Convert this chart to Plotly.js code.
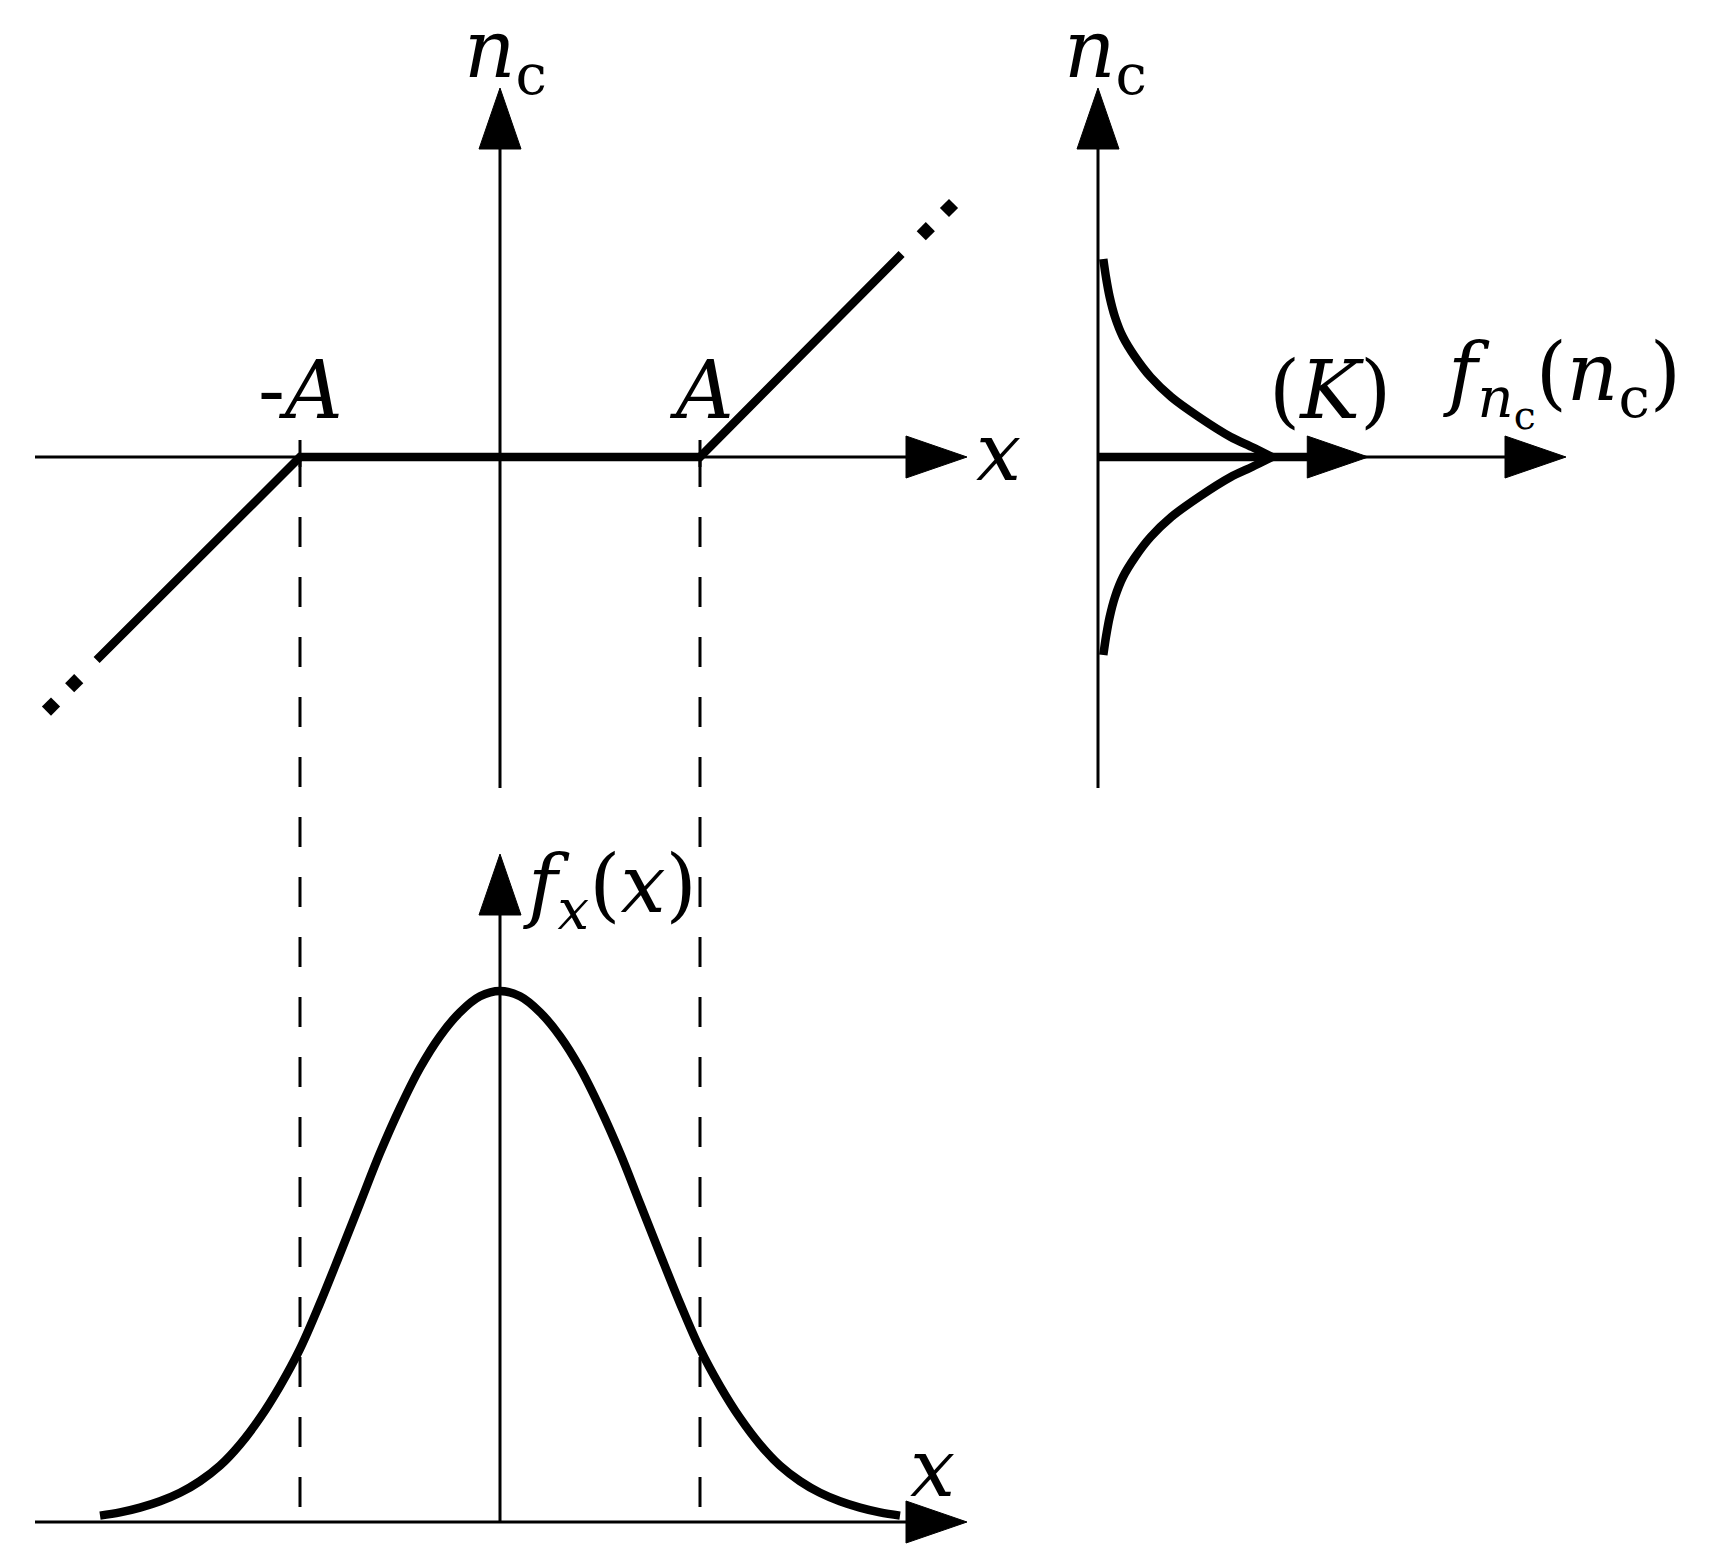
<!DOCTYPE html>
<html>
<head>
<meta charset="utf-8">
<script src="https://cdn.plot.ly/plotly-3.0.1.min.js"></script>
<style>html,body{margin:0;padding:0;background:#fff}#chart{width:1716px;height:1558px}</style>
</head>
<body>
<div id="chart"></div>
<script>
// ---------------- data (x and n_c in units of A) -------------
const transferX = [-2.017, -1, 1, 2.008];
const transferNc = [-1.015, 0, 0, 1.015];
const dotsX = [-2.129, -2.245, 2.129, 2.245];
const dotsNc = [-1.131, -1.248, 1.129, 1.245];

// pdf of x (normalised to peak = 1)
const gaussX = [-2.0,-1.9,-1.8,-1.7,-1.6,-1.5,-1.4,-1.3,-1.2,-1.1,-1.0,-0.9,-0.8,-0.7,-0.6,-0.5,-0.4,-0.3,-0.2,-0.1,
                0,0.1,0.2,0.3,0.4,0.5,0.6,0.7,0.8,0.9,1.0,1.1,1.2,1.3,1.4,1.5,1.6,1.7,1.8,1.9,2.0];
const gaussF = [0.012,0.018,0.027,0.039,0.055,0.077,0.106,0.146,0.196,0.256,0.326,0.412,0.505,0.600,0.695,0.780,0.855,0.915,0.960,0.990,
                1.000,0.990,0.960,0.915,0.855,0.780,0.695,0.600,0.505,0.412,0.326,0.256,0.196,0.146,0.106,0.077,0.055,0.039,0.027,0.018,0.012];

// pdf of n_c (continuous part)
const ncUpper = [0.99, 0.9, 0.8, 0.7, 0.6, 0.5, 0.4, 0.3, 0.2, 0.1, 0.05, 0];
const fUpper  = [0.010, 0.015, 0.022, 0.032, 0.047, 0.070, 0.099, 0.138, 0.19, 0.25, 0.29, 0.328];
const ncLower = [0, -0.05, -0.1, -0.2, -0.3, -0.4, -0.5, -0.6, -0.7, -0.8, -0.9, -0.99];
const fLower  = [0.328, 0.29, 0.25, 0.19, 0.138, 0.099, 0.070, 0.047, 0.032, 0.022, 0.015, 0.010];

// impulse of weight K at n_c = 0 (arrow length in f units)
const impulseF = 0.509;

const levelA = [-1, 1];

// ---------------- geometry ----------------
const W = 1716, H = 1558;
const A_PX = 200;     // px per unit of x / n_c
const F_PX = 531;     // px per unit of pdf
const OX = 500, OY_TOP = 457, OX_R = 1098, OY_BOT = 1522;

const xRange  = [-OX / A_PX, (W - OX) / A_PX];
const yRange  = [-(H - OY_TOP) / A_PX, OY_TOP / A_PX];
const x2Range = [-OX_R / F_PX, (W - OX_R) / F_PX];
const y3Range = [-(H - OY_BOT) / F_PX, OY_BOT / F_PX];

const xLeft = (35 - OX) / A_PX, xTip = (967 - OX) / A_PX;
const ncBottom = (OY_TOP - 788) / A_PX, ncTip = (OY_TOP - 88) / A_PX;
const fAxisTipR = (1566 - OX_R) / F_PX;
const fAxisTipB = (OY_BOT - 854) / F_PX;
const bottomInY = (OY_TOP - OY_BOT) / A_PX;

const black = '#000';
const thin = 3, thick = 8.5;

function line(xref, yref, x0, y0, x1, y1, w, dash) {
  return {type: 'line', xref, yref, x0, y0, x1, y1, layer: 'above',
          line: {color: black, width: w, dash: dash || 'solid'}};
}
const AL = 61, AW = 21;
function arrow(xref, yref, x, y, dir) {
  const p = dir === 'right'
    ? `M0,0 L${-AL},${AW} L${-AL},${-AW} Z`
    : `M0,0 L${-AW},${-AL} L${AW},${-AL} Z`;
  return {type: 'path', xref, yref, xsizemode: 'pixel', ysizemode: 'pixel',
          xanchor: x, yanchor: y, path: p, layer: 'above',
          fillcolor: black, line: {color: black, width: 1}};
}

const shapes = [
  // top-left axes
  line('x', 'y', xLeft, 0, xTip - 0.1, 0, thin),
  line('x', 'y', 0, ncBottom, 0, ncTip - 0.1, thin),
  arrow('x', 'y', xTip, 0, 'right'),
  arrow('x', 'y', 0, ncTip, 'up'),
  // right axes
  line('x2', 'y2', 0, ncBottom, 0, ncTip - 0.1, thin),
  arrow('x2', 'y2', 0, ncTip, 'up'),
  line('x2', 'y2', 0, 0, fAxisTipR - 0.05, 0, thin),
  line('x2', 'y2', 0, 0, impulseF - 0.1, 0, thick),
  arrow('x2', 'y2', impulseF, 0, 'right'),
  arrow('x2', 'y2', fAxisTipR, 0, 'right'),
  // bottom axes
  line('x3', 'y3', xLeft, 0, xTip - 0.1, 0, thin),
  line('x3', 'y3', 0, 0, 0, fAxisTipB - 0.1, thin),
  arrow('x3', 'y3', xTip, 0, 'right'),
  arrow('x3', 'y3', 0, fAxisTipB, 'up')
];
levelA.forEach(a => {
  shapes.push(line('x', 'y', a, 0, a, bottomInY, thin, '30px,30px'));
  shapes.push(line('x', 'y', a, -0.05, a, 0.085, thin));
});

const traces = [
  {x: transferX, y: transferNc, xaxis: 'x', yaxis: 'y', mode: 'lines',
   line: {color: black, width: thick}},
  {x: dotsX, y: dotsNc, xaxis: 'x', yaxis: 'y', mode: 'markers',
   marker: {symbol: 'diamond', size: 14, color: black}},
  {x: fUpper, y: ncUpper, xaxis: 'x2', yaxis: 'y2', mode: 'lines',
   line: {color: black, width: thick, shape: 'spline', smoothing: 0.7}},
  {x: fLower, y: ncLower, xaxis: 'x2', yaxis: 'y2', mode: 'lines',
   line: {color: black, width: thick, shape: 'spline', smoothing: 0.7}},
  {x: gaussX, y: gaussF, xaxis: 'x3', yaxis: 'y3', mode: 'lines',
   line: {color: black, width: thick, shape: 'spline', smoothing: 1}}
];

const FONT = {family: 'DejaVu Serif', size: 80, color: black};
function label(text, px, py) {
  return {text, xref: 'paper', yref: 'paper', x: px / W, y: 1 - py / H,
          xanchor: 'center', yanchor: 'middle', showarrow: false, font: FONT};
}
const annotations = [
  label('<i>n</i><sub>c</sub>', 505, 55),
  label('-<i>A</i>', 300, 390),
  label('<i>A</i>', 701, 390),
  label('<i>x</i>', 998, 452),
  label('<i>n</i><sub>c</sub>', 1105, 55),
  label('(<i>K</i>)', 1330, 390),
  label('<i>f</i><sub><i>n</i><sub>c</sub></sub>(<i>n</i><sub>c</sub>)', 1562, 382),
  label('<i>f</i><sub><i>x</i></sub>(<i>x</i>)', 610, 890),
  label('<i>x</i>', 932, 1468)
];

const ax = (range, extra) => Object.assign({range, visible: false, fixedrange: true, domain: [0, 1]}, extra || {});
const layout = {
  width: W, height: H,
  margin: {l: 0, r: 0, t: 0, b: 0, pad: 0},
  paper_bgcolor: '#fff', plot_bgcolor: 'rgba(0,0,0,0)',
  showlegend: false, hovermode: false,
  font: FONT,
  xaxis: ax(xRange), yaxis: ax(yRange),
  xaxis2: ax(x2Range, {overlaying: 'x', anchor: 'y2'}), yaxis2: ax(yRange, {overlaying: 'y', anchor: 'x2'}),
  xaxis3: ax(xRange, {overlaying: 'x', anchor: 'y3'}), yaxis3: ax(y3Range, {overlaying: 'y', anchor: 'x3'}),
  shapes, annotations
};
Plotly.newPlot('chart', traces, layout, {displayModeBar: false, staticPlot: true});
</script>
</body>
</html>
